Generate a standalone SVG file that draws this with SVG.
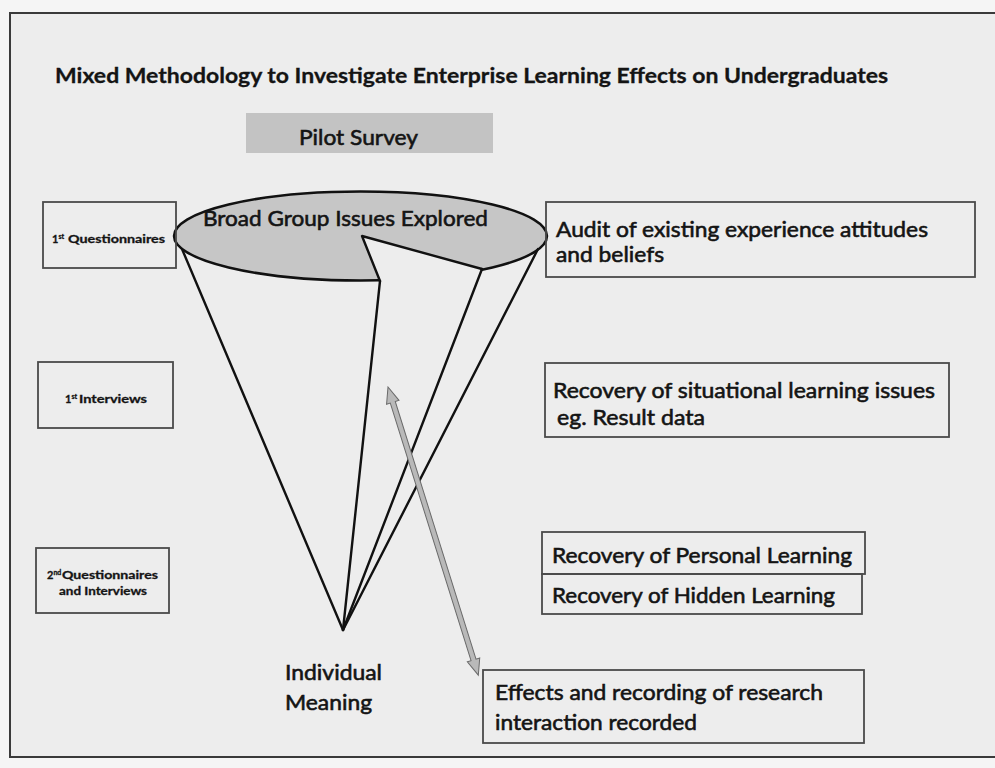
<svg xmlns="http://www.w3.org/2000/svg" width="995" height="768" viewBox="0 0 995 768">
  <style>
    .box { fill: none; stroke: #4a4a4a; stroke-width: 1.8; }
    .txt { font-family: Lato, "Open Sans", "Liberation Sans", sans-serif; fill: #141414; }
    .big { font-size: 22px; font-weight: 400; stroke: #141414; stroke-width: 0.6; }
    .small { font-size: 11px; font-weight: 700; stroke: #141414; stroke-width: 0.3; }
    .sup { font-size: 7px; font-weight: 700; }
    .cone { stroke: #111; stroke-width: 2.4; fill: none; stroke-linecap: round; stroke-linejoin: round; }
  </style>

  <!-- page background and frame -->
  <rect x="0" y="0" width="995" height="768" fill="#f5f5f5"/>
  <rect x="10" y="13" width="1000" height="744" fill="#ededed" stroke="#3a3a3a" stroke-width="2"/>

  <!-- title -->
  <g id="title">
    <text class="txt" x="55" y="83" font-size="21.5" font-weight="700" stroke="#141414" stroke-width="0.3" textLength="833" lengthAdjust="spacingAndGlyphs">Mixed Methodology to Investigate Enterprise Learning Effects on Undergraduates</text>
  </g>

  <!-- pilot survey band -->
  <g id="pilot-survey">
    <rect x="246" y="113" width="247" height="40" fill="#c3c3c3"/>
    <text class="txt big" x="299" y="145" font-size="23" textLength="119" lengthAdjust="spacingAndGlyphs">Pilot Survey</text>
  </g>

  <!-- funnel top: broad group issues -->
  <g id="broad-group">
    <ellipse cx="360.5" cy="236" rx="186.5" ry="44.5" fill="#c6c6c6" stroke="#111" stroke-width="2.5"/>
    <polygon points="362,236 380,281 380,292 482,292 482,269" fill="#ededed"/>
    <polyline class="cone" points="380,281 362,236 482,269"/>
    <text class="txt big" x="203" y="226" font-size="23" textLength="285" lengthAdjust="spacingAndGlyphs">Broad Group Issues Explored</text>
  </g>

  <!-- left column: research stages -->
  <g id="questionnaires-1">
    <rect class="box" x="43" y="202" width="133" height="66"/>
    <text class="txt small" x="52" y="243">1<tspan class="sup" dy="-4">st</tspan><tspan x="68" y="243" textLength="97" lengthAdjust="spacingAndGlyphs">Questionnaires</tspan></text>
  </g>
  <g id="interviews-1">
    <rect class="box" x="38" y="362" width="135" height="66"/>
    <text class="txt small" x="65" y="403">1<tspan class="sup" dy="-4">st</tspan><tspan x="79" y="403" textLength="68" lengthAdjust="spacingAndGlyphs">Interviews</tspan></text>
  </g>
  <g id="questionnaires-interviews-2">
    <rect class="box" x="36" y="548" width="133" height="65"/>
    <text class="txt small" x="47" y="579">2<tspan class="sup" dy="-4">nd</tspan><tspan x="62" y="579" textLength="96" lengthAdjust="spacingAndGlyphs">Questionnaires</tspan></text>
    <text class="txt small" x="59" y="595" textLength="88" lengthAdjust="spacingAndGlyphs">and Interviews</text>
  </g>

  <!-- right column: outcomes -->
  <g id="audit">
    <rect class="box" x="546" y="202" width="429" height="75"/>
    <text class="txt big" x="556" y="237" textLength="372" lengthAdjust="spacingAndGlyphs">Audit of existing experience attitudes</text>
    <text class="txt big" x="556" y="262" textLength="108" lengthAdjust="spacingAndGlyphs">and beliefs</text>
  </g>
  <g id="situational">
    <rect class="box" x="545" y="363" width="404" height="74"/>
    <text class="txt big" x="553" y="398" textLength="382" lengthAdjust="spacingAndGlyphs">Recovery of situational learning issues</text>
    <text class="txt big" x="557" y="425" textLength="148" lengthAdjust="spacingAndGlyphs">eg. Result data</text>
  </g>
  <g id="personal">
    <rect class="box" x="542" y="532" width="323" height="42"/>
    <text class="txt big" x="552" y="563" textLength="300" lengthAdjust="spacingAndGlyphs">Recovery of Personal Learning</text>
  </g>
  <g id="hidden">
    <rect class="box" x="542" y="574" width="320" height="40"/>
    <text class="txt big" x="552" y="603" textLength="283" lengthAdjust="spacingAndGlyphs">Recovery of Hidden Learning</text>
  </g>
  <g id="effects">
    <rect class="box" x="483" y="670" width="381" height="73"/>
    <text class="txt big" x="495" y="700" textLength="328" lengthAdjust="spacingAndGlyphs">Effects and recording of research</text>
    <text class="txt big" x="495" y="730" textLength="202" lengthAdjust="spacingAndGlyphs">interaction recorded</text>
  </g>

  <!-- funnel apex label -->
  <g id="individual-meaning">
    <text class="txt big" x="285" y="680" textLength="97" lengthAdjust="spacingAndGlyphs">Individual</text>
    <text class="txt big" x="285" y="710" textLength="87" lengthAdjust="spacingAndGlyphs">Meaning</text>
  </g>

  <!-- connectors: funnel sides and two-way block arrow -->
  <g id="connectors">
    <line class="cone" x1="182" y1="249" x2="343" y2="630"/>
    <line class="cone" x1="380" y1="281" x2="343" y2="630"/>
    <line class="cone" x1="482" y1="269" x2="343" y2="630"/>
    <line class="cone" x1="538" y1="249" x2="343" y2="630"/>
    <polygon transform="translate(388,387) rotate(72.6)" points="0,0 16,-6.5 16,-2.6 286,-2.6 286,-6.5 302,0 286,6.5 286,2.6 16,2.6 16,6.5" fill="#b9b9b9" stroke="#6a6a6a" stroke-width="1"/>
  </g>
</svg>
